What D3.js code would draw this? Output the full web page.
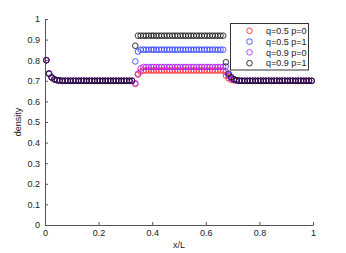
<!DOCTYPE html>
<html><head><meta charset="utf-8">
<script src="https://cdn.jsdelivr.net/npm/d3@7"></script>
<style>body{margin:0;background:#fff}svg{display:block}text{font-family:"Liberation Sans",Arial,sans-serif}</style>
</head><body><div id="chart"></div>
<script>
const xs = [
0.005,0.015,0.025,0.035,0.045,0.055,0.065,0.075,0.085,0.095,
0.105,0.115,0.125,0.135,0.145,0.155,0.165,0.175,0.185,0.195,
0.205,0.215,0.225,0.235,0.245,0.255,0.265,0.275,0.285,0.295,
0.305,0.315,0.325,0.337,0.347,0.357,0.367,0.377,0.387,0.397,
0.405,0.415,0.425,0.435,0.445,0.455,0.465,0.475,0.485,0.495,
0.505,0.515,0.525,0.535,0.545,0.555,0.565,0.575,0.585,0.595,
0.605,0.615,0.625,0.635,0.645,0.655,0.665,0.675,0.685,0.695,
0.705,0.715,0.725,0.735,0.745,0.755,0.765,0.775,0.785,0.795,
0.805,0.815,0.825,0.835,0.845,0.855,0.865,0.875,0.885,0.895,
0.905,0.915,0.925,0.935,0.945,0.955,0.965,0.975,0.985,0.995];

const q05p0 = [
0.80,0.735,0.716,0.707,0.703,0.701,0.70,0.70,0.70,0.70,
0.70,0.70,0.70,0.70,0.70,0.70,0.70,0.70,0.70,0.70,
0.70,0.70,0.70,0.70,0.70,0.70,0.70,0.70,0.70,0.70,
0.70,0.70,0.70,0.685,0.73,0.745,0.75,0.75,0.75,0.75,
0.75,0.75,0.75,0.75,0.75,0.75,0.75,0.75,0.75,0.75,
0.75,0.75,0.75,0.75,0.75,0.75,0.75,0.75,0.75,0.75,
0.75,0.75,0.75,0.75,0.75,0.75,0.75,0.725,0.712,0.705,
0.702,0.701,0.70,0.70,0.70,0.70,0.70,0.70,0.70,0.70,
0.70,0.70,0.70,0.70,0.70,0.70,0.70,0.70,0.70,0.70,
0.70,0.70,0.70,0.70,0.70,0.70,0.70,0.70,0.70,0.70];

const q05p1 = [
0.80,0.735,0.716,0.707,0.703,0.701,0.70,0.70,0.70,0.70,
0.70,0.70,0.70,0.70,0.70,0.70,0.70,0.70,0.70,0.70,
0.70,0.70,0.70,0.70,0.70,0.70,0.70,0.70,0.70,0.70,
0.70,0.70,0.70,0.794,0.842,0.851,0.851,0.851,0.851,0.851,
0.851,0.851,0.851,0.851,0.851,0.851,0.851,0.851,0.851,0.851,
0.851,0.851,0.851,0.851,0.851,0.851,0.851,0.851,0.851,0.851,
0.851,0.851,0.851,0.851,0.851,0.851,0.851,0.77,0.73,0.714,
0.706,0.702,0.70,0.70,0.70,0.70,0.70,0.70,0.70,0.70,
0.70,0.70,0.70,0.70,0.70,0.70,0.70,0.70,0.70,0.70,
0.70,0.70,0.70,0.70,0.70,0.70,0.70,0.70,0.70,0.70];

const q09p0 = [
0.80,0.735,0.716,0.707,0.703,0.701,0.70,0.70,0.70,0.70,
0.70,0.70,0.70,0.70,0.70,0.70,0.70,0.70,0.70,0.70,
0.70,0.70,0.70,0.70,0.70,0.70,0.70,0.70,0.70,0.70,
0.70,0.70,0.70,0.688,0.735,0.76,0.767,0.767,0.767,0.767,
0.767,0.767,0.767,0.767,0.767,0.767,0.767,0.767,0.767,0.767,
0.767,0.767,0.767,0.767,0.767,0.767,0.767,0.767,0.767,0.767,
0.767,0.767,0.767,0.767,0.767,0.767,0.767,0.742,0.725,0.712,
0.705,0.702,0.70,0.70,0.70,0.70,0.70,0.70,0.70,0.70,
0.70,0.70,0.70,0.70,0.70,0.70,0.70,0.70,0.70,0.70,
0.70,0.70,0.70,0.70,0.70,0.70,0.70,0.70,0.70,0.70];

const q09p1 = [
0.80,0.735,0.716,0.707,0.703,0.701,0.70,0.70,0.70,0.70,
0.70,0.70,0.70,0.70,0.70,0.70,0.70,0.70,0.70,0.70,
0.70,0.70,0.70,0.70,0.70,0.70,0.70,0.70,0.70,0.70,
0.70,0.70,0.70,0.87,0.919,0.919,0.919,0.919,0.919,0.919,
0.919,0.919,0.919,0.919,0.919,0.919,0.919,0.919,0.919,0.919,
0.919,0.919,0.919,0.919,0.919,0.919,0.919,0.919,0.919,0.919,
0.919,0.919,0.919,0.919,0.919,0.919,0.919,0.79,0.735,0.718,
0.708,0.703,0.701,0.70,0.70,0.70,0.70,0.70,0.70,0.70,
0.70,0.70,0.70,0.70,0.70,0.70,0.70,0.70,0.70,0.70,
0.70,0.70,0.70,0.70,0.70,0.70,0.70,0.70,0.70,0.70];

const seriesNames = ["q=0.5 p=0","q=0.5 p=1","q=0.9 p=0","q=0.9 p=1"];
const seriesValues = [q05p0, q05p1, q09p0, q09p1];
const seriesColors = ["#ff2020","#2a3cff","#b020ff","#111111"];
const xTicks = [0,0.2,0.4,0.6,0.8,1];
const yTicks = [0,0.1,0.2,0.3,0.4,0.5,0.6,0.7,0.8,0.9,1];
const xLabel = "x/L", yLabel = "density";

const W = 346, H = 253;
const m = {l:45, r:33, t:19, b:28};
const svg = d3.select("#chart").append("svg").attr("width",W).attr("height",H);
const x = d3.scaleLinear().domain([0,1]).range([m.l, W-m.r]);
const y = d3.scaleLinear().domain([0,1]).range([H-m.b, m.t]);
const axisColor = "#555", textColor = "#222";

const gx = svg.append("g").attr("transform",`translate(0,${H-m.b})`)
  .call(d3.axisBottom(x).tickValues(xTicks).tickFormat(d3.format("~g")).tickSizeInner(-3).tickSizeOuter(0).tickPadding(5));
const gy = svg.append("g").attr("transform",`translate(${m.l},0)`)
  .call(d3.axisLeft(y).tickValues(yTicks).tickFormat(d3.format("~g")).tickSizeInner(-3).tickSizeOuter(0).tickPadding(5));
[gx,gy].forEach(g=>{
  g.select(".domain").attr("stroke",axisColor);
  g.selectAll(".tick line").attr("stroke",axisColor);
  g.selectAll(".tick text").attr("fill",textColor).style("font-size","9px").style("font-family","'Liberation Sans',Arial,sans-serif");
});

svg.append("text").attr("x",(m.l+W-m.r)/2).attr("y",H-5).attr("text-anchor","middle")
  .attr("fill",textColor).style("font-size","9px").text(xLabel);
svg.append("text").attr("transform",`translate(21,${(m.t+H-m.b)/2}) rotate(-90)`).attr("text-anchor","middle")
  .attr("fill",textColor).style("font-size","9px").text(yLabel);

seriesValues.forEach((vals,k)=>{
  svg.append("g").selectAll("circle").data(vals).join("circle")
    .attr("cx",(d,i)=>x(xs[i])).attr("cy",d=>y(d)).attr("r",2.8)
    .attr("fill","none").attr("stroke",seriesColors[k]).attr("stroke-width",0.85);
});

const lg = svg.append("g").attr("transform","translate(230.5,23.5)");
lg.append("rect").attr("width",78).attr("height",46.5).attr("fill","#fff").attr("stroke","#333").attr("stroke-width",1);
seriesNames.forEach((n,k)=>{
  const yy = 7.3 + k*10.8;
  lg.append("circle").attr("cx",19).attr("cy",yy).attr("r",2.8).attr("fill","none")
    .attr("stroke",seriesColors[k]).attr("stroke-width",0.85);
  lg.append("text").attr("x",35.5).attr("y",yy).attr("dy","0.35em").attr("fill",textColor)
    .style("font-size","9px").text(n);
});
</script></body></html>
